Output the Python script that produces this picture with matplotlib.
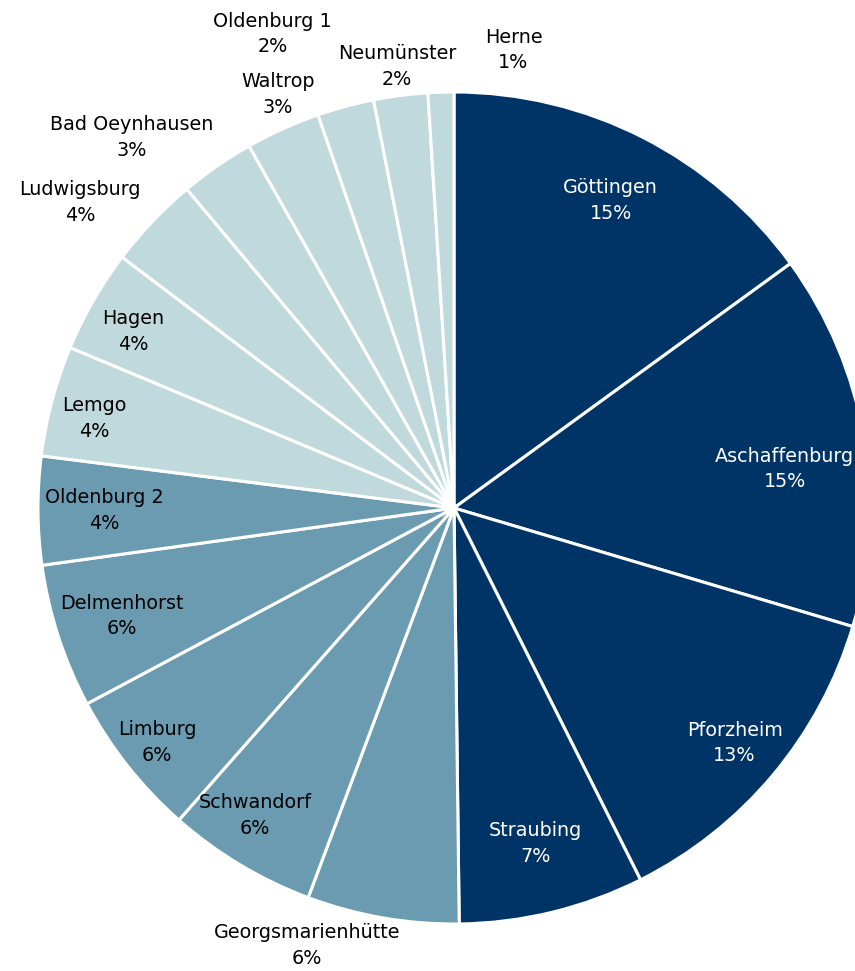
import matplotlib
matplotlib.use("Agg")
import numpy as np
import matplotlib.pyplot as plt

# Share of each site (percent)
cities = ["Göttingen", "Aschaffenburg", "Pforzheim", "Straubing", "Georgsmarienhütte",
          "Schwandorf", "Limburg", "Delmenhorst", "Oldenburg 2", "Lemgo", "Hagen",
          "Ludwigsburg", "Bad Oeynhausen", "Waltrop", "Oldenburg 1", "Neumünster", "Herne"]
shares = [15.0, 14.6, 13.0, 7.2, 5.9, 5.8, 5.7, 5.6, 4.2, 4.3, 4.0, 3.6, 2.9, 2.9, 2.2, 2.1, 1.0]
groups = [0, 0, 0, 0, 1, 1, 1, 1, 1, 2, 2, 2, 2, 2, 2, 2, 2]

# Label placement: radius (fraction of pie radius) and angle offset (deg, clockwise)
label_r = [0.83, 0.80, 0.88, 0.83, 1.11, 0.88, 0.91, 0.84, 0.84, 0.89, 0.88,
           1.16, 1.18, 1.08, 1.22, 1.07, 1.11]
label_dang = [0, 3, 0, 0, 8.7, 2, 0, 0, 0, -1, -1, -4.3, -6.3, 1.2, -5.8, 0, 9.2]

palette = ["#003466", "#6a9bb1", "#c0d9dc"]
text_colors = ["white", "black", "black"]

W, H = 855, 971
cx, cy, R = 454, 508, 416

fig = plt.figure(figsize=(W / 100, H / 100), dpi=100)
ax = fig.add_axes([0, 0, 1, 1])

wedges, _ = ax.pie(shares, colors=[palette[g] for g in groups], startangle=90,
                   counterclock=False, radius=1.0,
                   wedgeprops=dict(edgecolor="white", linewidth=2.2))
ax.set_aspect("auto")
ax.set_xlim((0 - cx) / R, (W - cx) / R)
ax.set_ylim((cy - H) / R, (cy - 0) / R)
ax.axis("off")

total = sum(shares)
cum = 0.0
for i, (name, v) in enumerate(zip(cities, shares)):
    mid = (cum + v / 2) / total * 360.0 + label_dang[i]
    cum += v
    theta = np.deg2rad(90 - mid)
    r = label_r[i]
    x, y = r * np.cos(theta), r * np.sin(theta)
    col = text_colors[groups[i]] if r < 1 else "black"
    ax.text(x, y, f"{name}\n{v:.0f}%", ha="center", va="center", color=col,
            fontsize=13.8, family="DejaVu Sans", linespacing=1.45)

fig.savefig("out.png", dpi=100, facecolor="white")
